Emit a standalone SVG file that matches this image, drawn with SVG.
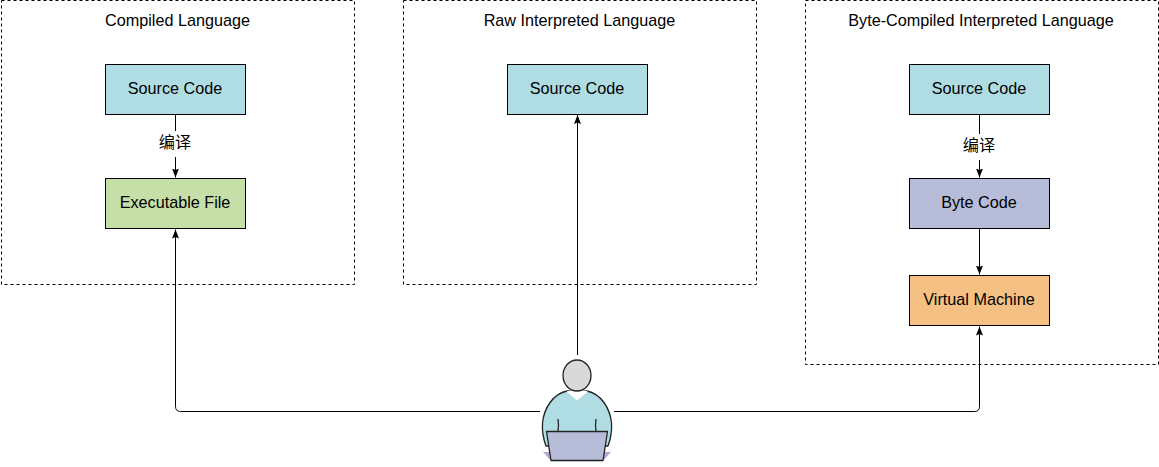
<svg xmlns="http://www.w3.org/2000/svg" width="1159" height="467" viewBox="0 0 1159 467">
<style>
text{font-family:"Liberation Sans",Arial,"Noto Sans CJK SC",sans-serif;font-size:16.2px;text-anchor:middle;fill:#000}
.frame{fill:none;stroke:#000;stroke-width:1;stroke-dasharray:3 3}
.box{stroke:#000;stroke-width:1}
.c{fill:none;stroke:#000;stroke-width:1}
.p{stroke:#222;stroke-width:1.3;stroke-linejoin:round}
</style>
<defs><marker id="a" markerWidth="10" markerHeight="9" refX="9" refY="4" orient="auto" markerUnits="userSpaceOnUse"><path d="M0,0.500L9,4L0,7.500L1.500,4Z" fill="#000"/></marker></defs>
<rect width="1159" height="467" fill="#fff"/>
<g id="frame-compiled"><rect class="frame" x="1.500" y="0.500" width="353" height="284"/><text x="177.500" y="26">Compiled Language</text></g>
<g id="frame-raw"><rect class="frame" x="403.500" y="0.500" width="353" height="284"/><text x="579.500" y="26">Raw Interpreted Language</text></g>
<g id="frame-byte"><rect class="frame" x="805.500" y="0.500" width="353" height="364"/><text x="981" y="26">Byte-Compiled Interpreted Language</text></g>
<g id="connectors">
<path class="c" d="M175.500 114.500V131M175.500 157V177.500" marker-end="url(#a)"/>
<path class="c" d="M979.500 114.500V134M979.500 160V177.500" marker-end="url(#a)"/>
<path class="c" d="M979.500 228.500V274.500" marker-end="url(#a)"/>
<path class="c" d="M577.500 355V115" marker-end="url(#a)"/>
<path class="c" d="M540 411.500H180.500Q175.500 411.500 175.500 406.500V229.500" marker-end="url(#a)"/>
<path class="c" d="M614 411.500H974.500Q979.500 411.500 979.500 406.500V326.500" marker-end="url(#a)"/>
</g>
<g id="src1"><rect class="box" x="105.500" y="64.500" width="140" height="50" fill="#b0dde4"/><text x="175" y="93.500">Source Code</text></g>
<g id="exe"><rect class="box" x="105.500" y="178.500" width="140" height="50" fill="#c6dfa8"/><text x="175" y="207.500">Executable File</text></g>
<g id="label1"><text x="175" y="148">编译</text></g>
<g id="src2"><rect class="box" x="507.500" y="64.500" width="140" height="50" fill="#b0dde4"/><text x="577" y="93.500">Source Code</text></g>
<g id="src3"><rect class="box" x="909.500" y="64.500" width="140" height="50" fill="#b0dde4"/><text x="979" y="93.500">Source Code</text></g>
<g id="label2"><text x="979" y="151">编译</text></g>
<g id="bytecode"><rect class="box" x="909.500" y="178.500" width="140" height="50" fill="#b7bcd8"/><text x="979" y="207.500">Byte Code</text></g>
<g id="vm"><rect class="box" x="909.500" y="275.500" width="140" height="50" fill="#f5c083"/><text x="979" y="304.500">Virtual Machine</text></g>
<g id="user">
<path d="M543 452L551 461H603L611 452Z" fill="#b7a9d6"/>
<path class="p" d="M567 391C553 394 544 408 542.500 423C542 431 543 438 546 446H608C611 438 612 431 611.500 423C610 408 601 394 587 391Z" fill="#b0dde4"/>
<path d="M566.500 391.500L577 400.500L588 391.500L577 389Z" fill="#fff"/>
<ellipse class="p" cx="577" cy="375.500" rx="14" ry="15.500" fill="#d9d9d9"/>
<path class="p" d="M558 431Q559 425 558 419M596 431Q595 425 596 419" fill="none"/>
<path class="p" d="M546.500 431.500H607.500L603 460.500H551Z" fill="#b7bcd8"/>
</g>
</svg>
